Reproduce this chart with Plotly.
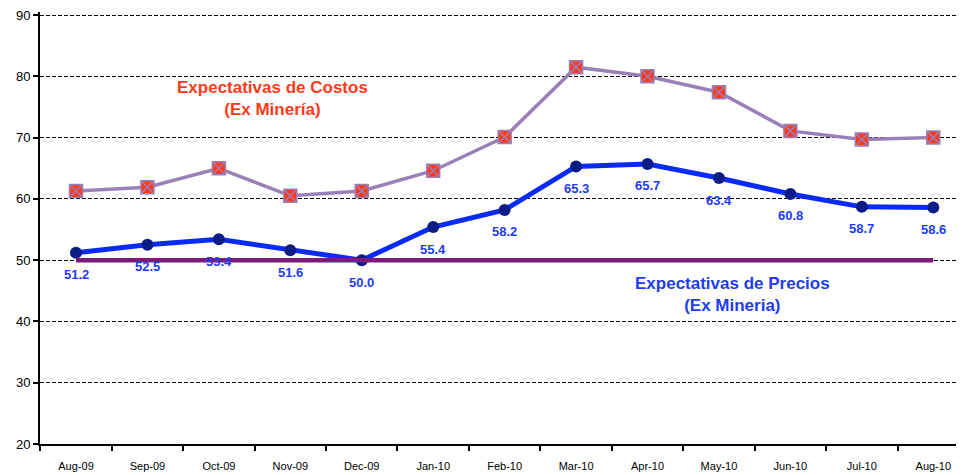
import plotly.graph_objects as go

months = ["Aug-09", "Sep-09", "Oct-09", "Nov-09", "Dec-09", "Jan-10", "Feb-10",
          "Mar-10", "Apr-10", "May-10", "Jun-10", "Jul-10", "Aug-10"]
costos = [61.3, 61.9, 65.0, 60.5, 61.3, 64.6, 70.1, 81.5, 80.0, 77.4, 71.1, 69.7, 70.0]
precios = [51.2, 52.5, 53.4, 51.6, 50.0, 55.4, 58.2, 65.3, 65.7, 63.4, 60.8, 58.7, 58.6]
neutral = [50] * len(months)
y_ticks = [20, 30, 40, 50, 60, 70, 80, 90]

FONT = "Liberation Sans, Arial, sans-serif"

fig = go.Figure()

fig.add_trace(go.Scatter(
    x=months, y=costos, mode="lines+markers",
    line=dict(color="#9A80B8", width=3.5),
    marker=dict(symbol="square-x", size=13, color="#FF3A1A",
                line=dict(color="#9A80B8", width=1.5)),
    showlegend=False, hoverinfo="x+y"))

fig.add_trace(go.Scatter(
    x=months, y=precios, mode="lines+markers",
    line=dict(color="#0A2BF5", width=5),
    marker=dict(symbol="circle", size=12, color="#0C1C86"),
    showlegend=False, hoverinfo="x+y"))

fig.add_trace(go.Scatter(
    x=months, y=neutral, mode="lines",
    line=dict(color="#7B1A7A", width=4.5),
    showlegend=False, hoverinfo="skip"))

for m, v in zip(months, precios):
    fig.add_annotation(x=m, y=v, xref="x", yref="y", text=f"<b>{v:.1f}</b>",
                       showarrow=False, yshift=-22,
                       font=dict(family=FONT, size=13, color="#1F3CF0"))

fig.add_annotation(x=0.252, y=76.45, xref="paper", yref="y",
                   xanchor="center", yanchor="middle",
                   text="<b>Expectativas de Costos<br>(Ex Minería)</b>",
                   showarrow=False, align="center",
                   font=dict(family=FONT, size=17, color="#FF3A1A"))
fig.add_annotation(x=0.749, y=44.4, xref="paper", yref="y",
                   xanchor="center", yanchor="middle",
                   text="<b>Expectativas de Precios<br>(Ex Mineria)</b>",
                   showarrow=False, align="center",
                   font=dict(family=FONT, size=17, color="#1F3CF0"))

fig.update_layout(
    width=956, height=467,
    margin=dict(l=32, r=0, t=4, b=31),
    paper_bgcolor="white", plot_bgcolor="white",
    font=dict(family=FONT, color="black"),
    xaxis=dict(type="category", range=[-0.504, 12.43], showgrid=False,
               showline=True, linecolor="black", linewidth=2,
               ticks="outside", tickson="boundaries", ticklen=5,
               tickcolor="black", tickwidth=2, ticklabelstandoff=11,
               tickfont=dict(size=11, family=FONT, color="black")),
    yaxis=dict(range=[20, 90.5], tickvals=y_ticks, showgrid=True,
               gridcolor="black", griddash="4px,2px", gridwidth=1.3,
               showline=True, linecolor="black", linewidth=2,
               ticks="outside", ticklen=5, tickcolor="black", tickwidth=2,
               zeroline=False, ticklabeloverflow="allow",
               tickfont=dict(size=13, family=FONT, color="black")),
)

fig.write_html("out.html")
